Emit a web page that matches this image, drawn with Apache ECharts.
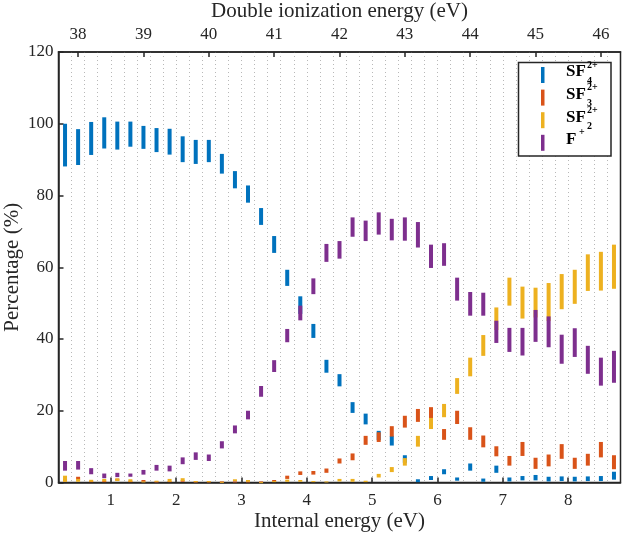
<!DOCTYPE html>
<html>
<head>
<meta charset="utf-8">
<script src="https://cdn.jsdelivr.net/npm/echarts@6/dist/echarts.min.js"></script>
<style>
html, body { margin: 0; padding: 0; background: #fff; }
#chart { width: 622px; height: 534px; }
</style>
</head>
<body>
<div id="chart"></div>
<script>
// internal energy of each bin (eV)
var energy = [0.3, 0.5, 0.7, 0.9, 1.1, 1.3, 1.5, 1.7, 1.9, 2.1, 2.3, 2.5, 2.7, 2.9, 3.1,
    3.3, 3.5, 3.7, 3.9, 4.1, 4.3, 4.5, 4.7, 4.9, 5.1, 5.3, 5.5, 5.7, 5.9, 6.1,
    6.3, 6.5, 6.7, 6.9, 7.1, 7.3, 7.5, 7.7, 7.9, 8.1, 8.3, 8.5, 8.7];

// SF4 2+ (low / high end of each bar, %)
var sf4Low = [88.1, 88.5, 91.3, 93.1, 92.8, 93.6, 93.0, 92.1, 91.4, 89.3, 88.8, 89.3, 86.1, 82.0, 78.0,
    71.8, 64.0, 54.8, 47.0, 40.3, 30.6, 26.8, 19.4, 16.2, 11.8, 10.3, 5.5, 0.1, 0.7, 2.3,
    0.5, 3.3, 0.2, 2.7, 0.3, 0.6, 0.6, 0.3, 0.4, 0.3, 0.4, 0.4, 0.8];
var sf4High = [100.0, 98.5, 100.5, 101.8, 100.6, 100.6, 99.4, 98.8, 98.6, 96.5, 95.5, 95.5, 91.6, 86.8, 82.8,
    76.5, 68.7, 59.3, 51.9, 44.2, 34.2, 30.2, 22.4, 19.2, 14.4, 13.0, 7.6, 0.9, 1.8, 3.7,
    1.4, 5.3, 1.1, 4.7, 1.4, 1.8, 2.1, 1.6, 1.7, 1.6, 1.7, 1.8, 3.0];

// SF3 2+
var sf3Low = [0.3, 0.8, 0.1, 0.1, 0.5, 0.1, 0.2, 0.1, 0.1, 0.2, 0.1, 0.1, 0.1, 0.1, 0.1,
    0.1, 0.2, 1.0, 2.1, 2.2, 2.7, 5.3, 6.2, 10.5, 11.3, 12.8, 15.3, 16.9, 17.5, 11.9,
    16.3, 11.9, 9.8, 7.3, 4.7, 7.4, 3.8, 4.5, 6.6, 3.8, 4.7, 7.0, 3.7];
var sf3High = [1.0, 1.6, 0.5, 0.5, 1.1, 0.5, 0.7, 0.3, 0.4, 0.6, 0.3, 0.3, 0.3, 0.3, 0.3,
    0.3, 0.7, 1.9, 3.1, 3.2, 3.9, 6.7, 8.1, 13.0, 14.0, 15.7, 18.6, 20.5, 21.0, 14.9,
    20.0, 15.4, 13.1, 10.1, 7.4, 11.3, 6.9, 7.8, 10.7, 6.9, 8.0, 11.3, 7.6];

// SF2 2+
var sf2Low = [0.2, 0.2, 0.2, 0.3, 0.4, 0.2, 0.1, 0.2, 0.2, 0.4, 0.1, 0.1, 0.05, 0.4, 0.2,
    0.0, 0.1, 0.2, 0.2, 0.1, 0.1, 0.3, 0.2, 0.1, 1.4, 2.9, 4.7, 10.0, 14.9, 18.2,
    24.7, 29.6, 35.3, 42.5, 49.3, 45.7, 46.0, 45.0, 48.3, 49.8, 53.4, 53.5, 54.0];
var sf2High = [1.9, 1.0, 0.75, 1.0, 1.1, 0.9, 0.3, 0.5, 1.0, 1.2, 0.4, 0.4, 0.2, 0.9, 0.7,
    0.1, 0.4, 0.8, 0.7, 0.4, 0.3, 1.0, 1.0, 0.5, 2.4, 4.3, 6.8, 13.0, 18.0, 21.9,
    29.1, 34.8, 41.1, 48.8, 57.1, 54.6, 54.3, 55.6, 58.1, 59.3, 63.6, 64.3, 66.3];

// F+
var fLow = [3.3, 3.6, 2.3, 1.2, 1.5, 1.6, 2.2, 3.3, 3.1, 5.1, 6.3, 6.0, 9.5, 13.7, 17.6,
    23.9, 30.8, 39.1, 45.2, 52.5, 61.5, 62.4, 68.5, 67.3, 69.1, 67.5, 67.4, 65.5, 59.8, 60.4,
    50.7, 46.5, 46.5, 38.9, 36.4, 35.4, 39.2, 37.7, 33.1, 35.0, 30.3, 27.0, 27.8];
var fHigh = [6.0, 6.0, 4.0, 2.5, 2.7, 2.5, 3.5, 4.9, 4.7, 7.0, 8.4, 7.8, 11.5, 15.9, 20.0,
    26.9, 34.1, 42.8, 49.3, 56.9, 66.5, 67.3, 73.9, 73.0, 75.3, 73.5, 73.9, 72.6, 66.3, 66.7,
    57.1, 53.1, 52.9, 45.1, 43.1, 43.1, 48.1, 46.3, 41.2, 43.0, 38.1, 34.8, 36.7];

var bottomTicks = [1, 2, 3, 4, 5, 6, 7, 8];
var topTicks = [38, 39, 40, 41, 42, 43, 44, 45, 46];
var doubleOffset = 37.5; // double ionization energy = internal energy + offset

var FONT = "'Liberation Serif', 'DejaVu Serif', serif";
var INK = '#262626';
var colors = ['#0072BD', '#D95319', '#EDB120', '#7E2F8E'];

function rows(lo, hi) {
    return energy.map(function (x, i) { return [x, lo[i], hi[i]]; });
}

function renderBar(params, api) {
    var lo = api.coord([api.value(0), api.value(1)]);
    var hi = api.coord([api.value(0), api.value(2)]);
    var w = 4;
    return {
        type: 'rect',
        shape: { x: lo[0] - w / 2, y: hi[1], width: w, height: Math.max(lo[1] - hi[1], 1) },
        style: { fill: api.visual('color') }
    };
}

function barSeries(name, data, color) {
    return {
        name: name,
        type: 'custom',
        xAxisIndex: 0,
        yAxisIndex: 0,
        renderItem: renderBar,
        itemStyle: { color: color },
        encode: { x: 0, y: [1, 2] },
        data: data
    };
}

var chart = echarts.init(document.getElementById('chart'));

// legend box drawn by hand (sub/superscripts)
var legendRows = [
    { main: 'SF', sup: '2+', sub: '4' },
    { main: 'SF', sup: '2+', sub: '3' },
    { main: 'SF', sup: '2+', sub: '2' },
    { main: 'F', sup: '+', sub: '' }
];
var legendEls = [{
    type: 'rect',
    shape: { x: 518.5, y: 62.5, width: 92.5, height: 93.5 },
    style: { fill: '#fff', stroke: INK, lineWidth: 1.5 },
    z: 100
}];
legendRows.forEach(function (r, i) {
    var cy = 75 + i * 22.6;
    legendEls.push({
        type: 'rect',
        shape: { x: 541, y: cy - 8, width: 3.5, height: 16 },
        style: { fill: colors[i] },
        z: 101
    });
    var mainW = r.main === 'SF' ? 20 : 12;
    legendEls.push({
        type: 'text', x: 566, y: cy - 3, z: 101,
        style: { text: r.main, font: 'bold 17px ' + FONT, fill: '#000', verticalAlign: 'middle' }
    });
    legendEls.push({
        type: 'text', x: 566 + mainW + 1, y: cy - 10, z: 101,
        style: { text: r.sup, font: 'bold 10px ' + FONT, fill: '#000', verticalAlign: 'middle' }
    });
    if (r.sub) {
        legendEls.push({
            type: 'text', x: 566 + mainW + 1, y: cy + 6, z: 101,
            style: { text: r.sub, font: 'bold 10px ' + FONT, fill: '#000', verticalAlign: 'middle' }
        });
    }
});

var tickLabel = { color: '#262626', fontFamily: FONT, fontSize: 17 };
var titleStyle = { color: '#262626', fontFamily: FONT, fontSize: 21 };

var option = {
    backgroundColor: '#fff',
    animation: false,
    grid: {
        left: 58.5, right: 1.5, top: 52, bottom: 51.5,
        outerBoundsMode: 'none',
        containLabel: false,
        show: true, borderColor: INK, borderWidth: 1.5, backgroundColor: '#fff'
    },
    xAxis: [{
        type: 'value',
        position: 'bottom',
        min: 0.2,
        max: 8.8,
        name: 'Internal energy (eV)',
        nameLocation: 'middle',
        nameGap: 28,
        nameMoveOverlap: false,
        nameTextStyle: titleStyle,
        axisLine: { show: true, lineStyle: { color: INK, width: 1.5 } },
        axisTick: { show: true, inside: true, length: 5, customValues: bottomTicks, lineStyle: { color: INK, width: 1.5 } },
        axisLabel: Object.assign({ customValues: bottomTicks, margin: 10 }, tickLabel),
        splitLine: { show: false }
    }, {
        // dotted grid every 0.2 eV
        type: 'value',
        position: 'bottom',
        min: 0.2,
        max: 8.8,
        interval: 0.2,
        axisLine: { show: false },
        axisTick: { show: false },
        axisLabel: { show: false },
        splitLine: {
            show: true, showMinLine: false, showMaxLine: false,
            lineStyle: { color: '#b8b8b8', width: 1, type: [1, 3] }
        }
    }, {
        type: 'value',
        position: 'top',
        min: 0.2 + doubleOffset,
        max: 8.8 + doubleOffset,
        name: 'Double ionization energy (eV)',
        nameLocation: 'middle',
        nameGap: 30,
        nameMoveOverlap: false,
        nameTextStyle: titleStyle,
        axisLine: { show: true, lineStyle: { color: INK, width: 1.5 } },
        axisTick: { show: true, inside: true, length: 5, customValues: topTicks, lineStyle: { color: INK, width: 1.5 } },
        axisLabel: Object.assign({ customValues: topTicks, margin: 9 }, tickLabel),
        splitLine: { show: false }
    }],
    yAxis: [{
        type: 'value',
        min: 0,
        max: 120,
        interval: 20,
        name: 'Percentage (%)',
        nameLocation: 'middle',
        nameGap: 36,
        nameMoveOverlap: false,
        nameTextStyle: titleStyle,
        axisLine: { show: true, lineStyle: { color: INK, width: 1.5 } },
        axisTick: { show: true, inside: true, length: 5, lineStyle: { color: INK, width: 1.5 } },
        axisLabel: Object.assign({ margin: 5 }, tickLabel),
        splitLine: { show: false }
    }],
    graphic: legendEls,
    series: [
        barSeries('SF4 2+', rows(sf4Low, sf4High), colors[0]),
        barSeries('SF3 2+', rows(sf3Low, sf3High), colors[1]),
        barSeries('SF2 2+', rows(sf2Low, sf2High), colors[2]),
        barSeries('F+', rows(fLow, fHigh), colors[3])
    ]
};

chart.setOption(option);
</script>
</body>
</html>
